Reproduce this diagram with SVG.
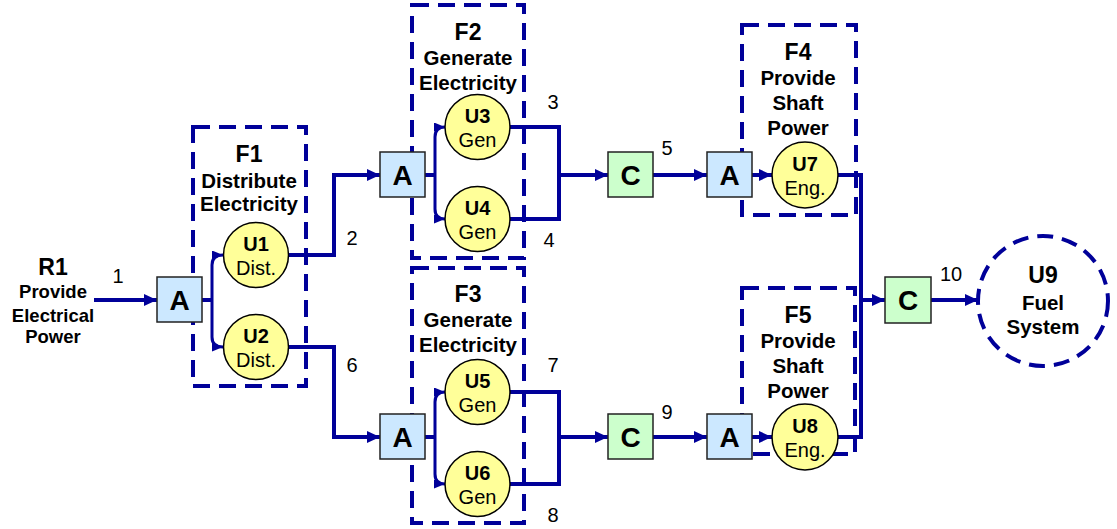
<svg xmlns="http://www.w3.org/2000/svg" width="1117" height="529" viewBox="0 0 1117 529">
<style>
text{font-family:"Liberation Sans",Arial,sans-serif;text-anchor:middle;fill:#000}
.hd{font-size:23px;font-weight:bold}
.sb{font-size:20.5px;font-weight:bold}
.r1{font-size:18.5px;font-weight:bold}
.ub{font-size:20px;font-weight:bold}
.ur{font-size:20px}
.num{font-size:20px}
.box{font-size:28px;font-weight:bold}
.fr{fill:none;stroke:#000099;stroke-width:4;stroke-dasharray:17 9}
.u{fill:#ffff99;stroke:#000;stroke-width:1.5}
.a{fill:#cce8ff;stroke:#222;stroke-width:1.5}
.c{fill:#ccffcc;stroke:#222;stroke-width:1.5}
.w{fill:none;stroke:#000099;stroke-width:4}
.wa{fill:none;stroke:#000099;stroke-width:4;marker-end:url(#ar)}
.wb{fill:none;stroke:#000099;stroke-width:3;marker-end:url(#sm)}
</style>
<defs>
<marker id="ar" markerUnits="userSpaceOnUse" markerWidth="13" markerHeight="12" refX="13" refY="6" orient="auto"><path d="M0,0 L13,6 L0,12 z" fill="#000099"/></marker>
<marker id="sm" markerUnits="userSpaceOnUse" markerWidth="11" markerHeight="9" refX="11" refY="4.5" orient="auto"><path d="M0,0 L11,4.5 L0,9 z" fill="#000099"/></marker>
</defs>

<g id="F1"><rect class="fr" x="193" y="127" width="113" height="259"/>
<text class="hd" x="249" y="162">F1</text><text class="sb" x="249" y="188">Distribute</text><text class="sb" x="249" y="211">Electricity</text></g>
<g id="F2"><rect class="fr" x="412" y="5" width="112" height="253"/>
<text class="hd" x="468" y="40">F2</text><text class="sb" x="468" y="65">Generate</text><text class="sb" x="468" y="90">Electricity</text></g>
<g id="F3"><rect class="fr" x="412" y="268" width="112" height="255"/>
<text class="hd" x="468" y="302">F3</text><text class="sb" x="468" y="327">Generate</text><text class="sb" x="468" y="352">Electricity</text></g>
<g id="F4"><rect class="fr" x="742" y="25" width="114" height="190"/>
<text class="hd" x="798" y="60">F4</text><text class="sb" x="798" y="85">Provide</text><text class="sb" x="798" y="110">Shaft</text><text class="sb" x="798" y="135">Power</text></g>
<g id="F5"><rect class="fr" x="742" y="288" width="113" height="166"/>
<text class="hd" x="798" y="323">F5</text><text class="sb" x="798" y="348">Provide</text><text class="sb" x="798" y="373">Shaft</text><text class="sb" x="798" y="398">Power</text></g>

<g id="connectors">
<path class="wa" d="M94 300 H157"/>
<path class="w" d="M202 300 H212"/>
<path class="wb" d="M212 300 V265 Q212 255 223 255"/>
<path class="wb" d="M212 300 V337 Q212 347 223 347"/>
<path class="wa" d="M288 255 H334 V175 H380"/>
<path class="wa" d="M288 347 H334 V437 H380"/>
<path class="w" d="M425 175 H435"/>
<path class="wb" d="M435 175 V137 Q435 127 445 127"/>
<path class="wb" d="M435 175 V209 Q435 219 445 219"/>
<path class="w" d="M425 437 H435"/>
<path class="wb" d="M435 437 V402 Q435 392 445 392"/>
<path class="wb" d="M435 437 V474 Q435 484 445 484"/>
<path class="w" d="M510 127 H559 V219 H510"/>
<path class="wa" d="M559 175 H608"/>
<path class="w" d="M510 392 H559 V484 H510"/>
<path class="wa" d="M559 437 H608"/>
<path class="wa" d="M653 175 H707"/>
<path class="wa" d="M653 437 H707"/>
<path class="wa" d="M752 175 H772"/>
<path class="wa" d="M752 437 H772"/>
<path class="w" d="M838 175 H861 V437 H838"/>
<path class="wa" d="M861 300 H885"/>
<path class="wa" d="M931 300 H978"/>
<text class="num" x="118" y="283">1</text>
<text class="num" x="352" y="245">2</text>
<text class="num" x="553" y="109">3</text>
<text class="num" x="549" y="247">4</text>
<text class="num" x="667" y="155">5</text>
<text class="num" x="352" y="372">6</text>
<text class="num" x="553" y="372">7</text>
<text class="num" x="553" y="522">8</text>
<text class="num" x="667" y="419">9</text>
<text class="num" x="951" y="281">10</text>
</g>

<g id="R1"><text class="hd" x="53" y="275">R1</text><text class="r1" x="53" y="298">Provide</text><text class="r1" x="53" y="322">Electrical</text><text class="r1" x="53" y="343">Power</text></g>

<g id="A1"><rect class="a" x="157" y="277" width="45" height="45"/><text class="box" x="179.5" y="310">A</text></g>
<g id="A2"><rect class="a" x="380" y="152" width="45" height="45"/><text class="box" x="402.5" y="185">A</text></g>
<g id="A3"><rect class="a" x="380" y="414" width="45" height="45"/><text class="box" x="402.5" y="447">A</text></g>
<g id="A4"><rect class="a" x="707" y="152" width="45" height="45"/><text class="box" x="729.5" y="185">A</text></g>
<g id="A5"><rect class="a" x="707" y="414" width="45" height="45"/><text class="box" x="729.5" y="447">A</text></g>
<g id="C1"><rect class="c" x="608" y="152" width="45" height="45"/><text class="box" x="630.5" y="185">C</text></g>
<g id="C2"><rect class="c" x="608" y="414" width="45" height="45"/><text class="box" x="630.5" y="447">C</text></g>
<g id="C3"><rect class="c" x="885" y="277" width="46" height="46"/><text class="box" x="908" y="310">C</text></g>

<g id="U1"><circle class="u" cx="256" cy="255" r="32.5"/><text class="ub" x="256" y="251">U1</text><text class="ur" x="256" y="275">Dist.</text></g>
<g id="U2"><circle class="u" cx="256" cy="347" r="32.5"/><text class="ub" x="256" y="343">U2</text><text class="ur" x="256" y="367">Dist.</text></g>
<g id="U3"><circle class="u" cx="477.5" cy="127" r="32.5"/><text class="ub" x="477.5" y="123">U3</text><text class="ur" x="477.5" y="147">Gen</text></g>
<g id="U4"><circle class="u" cx="477.5" cy="219" r="32.5"/><text class="ub" x="477.5" y="215">U4</text><text class="ur" x="477.5" y="239">Gen</text></g>
<g id="U5"><circle class="u" cx="477.5" cy="392" r="32.5"/><text class="ub" x="477.5" y="388">U5</text><text class="ur" x="477.5" y="412">Gen</text></g>
<g id="U6"><circle class="u" cx="477.5" cy="484" r="32.5"/><text class="ub" x="477.5" y="480">U6</text><text class="ur" x="477.5" y="504">Gen</text></g>
<g id="U7"><circle class="u" cx="805" cy="175" r="33"/><text class="ub" x="805" y="171">U7</text><text class="ur" x="805" y="195">Eng.</text></g>
<g id="U8"><circle class="u" cx="805" cy="437" r="33"/><text class="ub" x="805" y="433">U8</text><text class="ur" x="805" y="457">Eng.</text></g>
<g id="U9"><circle cx="1043" cy="301" r="65" fill="#fff" stroke="#000099" stroke-width="4" stroke-dasharray="16 9"/><text class="hd" x="1043" y="283">U9</text><text class="sb" x="1043" y="310">Fuel</text><text class="sb" x="1043" y="334">System</text></g>
</svg>
